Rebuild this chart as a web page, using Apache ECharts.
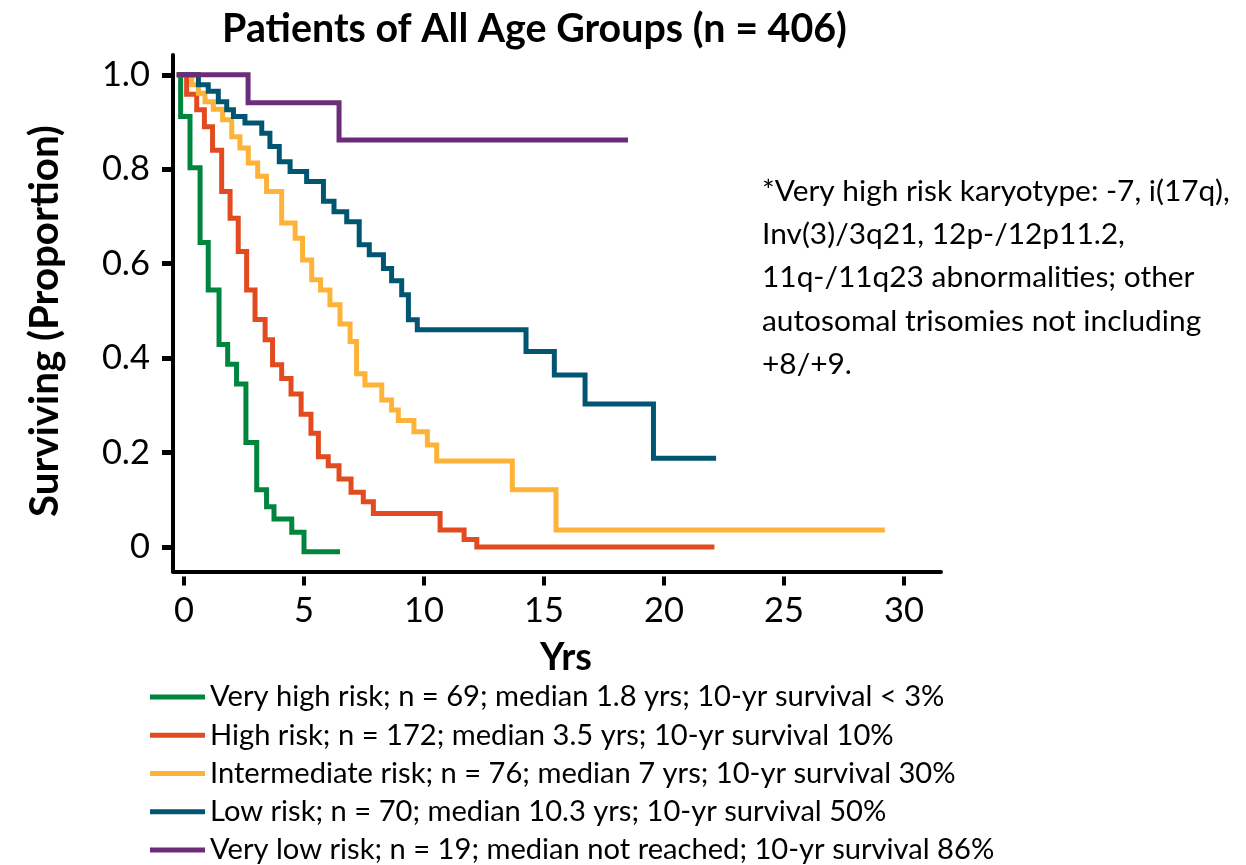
<!DOCTYPE html>
<html><head><meta charset="utf-8">
<script src="https://cdn.jsdelivr.net/npm/echarts@6/dist/echarts.min.js"></script>
<style>html,body{margin:0;padding:0;background:#fff}#c{width:1246px;height:865px}</style>
</head><body><div id="c"></div>
<script>
// ---- data (time in years, survival proportion) ----
const seriesNames = [
  'Very high risk; n = 69; median 1.8 yrs; 10-yr survival < 3%',
  'High risk; n = 172; median 3.5 yrs; 10-yr survival 10%',
  'Intermediate risk; n = 76; median 7 yrs; 10-yr survival 30%',
  'Low risk; n = 70; median 10.3 yrs; 10-yr survival 50%',
  'Very low risk; n = 19; median not reached; 10-yr survival 86%'
];
const veryHighT = [-0.3, -0.14, 0.25, 0.67, 1.01, 1.46, 1.82, 2.19, 2.58, 3.03, 3.44, 3.75, 4.49, 5.0, 6.5];
const veryHighS = [1.0, 0.912, 0.803, 0.645, 0.544, 0.429, 0.387, 0.345, 0.221, 0.121, 0.085, 0.059, 0.031, -0.01, -0.01];
const highT = [-0.3, 0.11, 0.53, 0.85, 1.19, 1.57, 1.92, 2.26, 2.61, 2.96, 3.38, 3.69, 4.07, 4.46, 4.88, 5.29, 5.6, 6.01, 6.46, 6.96, 7.47, 7.89, 10.67, 11.67, 12.2, 22.1];
const highS = [1.0, 0.959, 0.926, 0.890, 0.840, 0.753, 0.696, 0.626, 0.544, 0.482, 0.439, 0.386, 0.357, 0.324, 0.281, 0.241, 0.191, 0.172, 0.144, 0.116, 0.096, 0.071, 0.036, 0.016, 0.0, 0.0];
const interT = [-0.3, 0.32, 0.6, 0.875, 1.22, 1.61, 1.99, 2.33, 2.68, 3.07, 3.44, 4.07, 4.63, 4.94, 5.32, 5.69, 6.08, 6.5, 6.92, 7.19, 7.54, 8.24, 8.65, 8.93, 9.58, 10.14, 10.53, 13.68, 15.5, 29.2];
const interS = [1.0, 0.979, 0.961, 0.943, 0.927, 0.905, 0.869, 0.845, 0.813, 0.785, 0.753, 0.686, 0.654, 0.608, 0.566, 0.544, 0.513, 0.472, 0.435, 0.367, 0.343, 0.311, 0.290, 0.268, 0.244, 0.216, 0.182, 0.121, 0.036, 0.036];
const lowT = [-0.3, 0.6, 1.01, 1.43, 1.78, 2.06, 2.54, 3.24, 3.58, 3.97, 4.42, 5.11, 5.81, 6.25, 6.78, 7.3, 7.72, 8.31, 8.65, 9.07, 9.35, 9.72, 14.25, 15.43, 16.71, 19.56, 22.17];
const lowS = [1.0, 0.979, 0.965, 0.943, 0.926, 0.912, 0.898, 0.876, 0.848, 0.816, 0.795, 0.774, 0.732, 0.710, 0.689, 0.640, 0.619, 0.590, 0.564, 0.534, 0.481, 0.460, 0.414, 0.364, 0.303, 0.188, 0.188];
const veryLowT = [-0.3, 2.67, 6.46, 18.5];
const veryLowS = [1.0, 0.941, 0.862, 0.862];

const xTickValues = [0, 5, 10, 15, 20, 25, 30];
const yTickValues = [0, 0.2, 0.4, 0.6, 0.8, 1.0];
const yTickLabels = ['0', '0.2', '0.4', '0.6', '0.8', '1.0'];

const titleText = 'Patients of All Age Groups (n = 406)';
const yAxisName = 'Surviving (Proportion)';
const xAxisName = 'Yrs';
const noteLines = [
  '*Very high risk karyotype: -7, i(17q),',
  'Inv(3)/3q21, 12p-/12p11.2,',
  '11q-/11q23 abnormalities; other',
  'autosomal trisomies not including',
  '+8/+9.'
];

// ---- styling / layout ----
const colors = ['#00853E', '#E24B1F', '#FDB338', '#005670', '#6B2D78'];
const FONT = 'Lato';
const mctx = document.createElement('canvas').getContext('2d');
function fitSize(text, weight, target) {
  mctx.font = weight + ' 100px ' + FONT;
  return 100 * target / mctx.measureText(text).width;
}
const titleSize = fitSize(titleText, 'bold', 625);
const yNameSize = fitSize(yAxisName, 'bold', 392);
const xNameSize = fitSize(xAxisName, 'bold', 52);
const legendSize = fitSize(seriesNames[0], 'normal', 735);
const noteSize = fitSize(noteLines[0], 'normal', 468);
const tickSize = fitSize('10', 'normal', 40);

const pairs = [[veryHighT, veryHighS], [highT, highS], [interT, interS], [lowT, lowS], [veryLowT, veryLowS]];
const series = pairs.map((p, i) => ({
  name: seriesNames[i],
  type: 'line',
  step: 'end',
  symbol: 'none',
  xAxisIndex: 0,
  color: colors[i],
  lineStyle: { width: 5, color: colors[i], cap: 'butt', join: 'miter' },
  data: p[0].map((t, j) => [t, p[1][j]]),
  animation: false
}));

const xMin = -0.458, xMax = 31.54, yMin = -0.052, yMax = 1.042;

const noteGraphics = noteLines.map((s, i) => ({
  type: 'text', left: 762, top: 176 + i * 43.4,
  style: { text: s, font: 'normal ' + noteSize + 'px ' + FONT, fill: '#000' }
}));

const chart = echarts.init(document.getElementById('c'), null, { renderer: 'canvas' });
chart.setOption({
  animation: false,
  backgroundColor: '#fff',
  grid: { left: 173, right: 305, top: 55, bottom: 293.5, containLabel: false },
  xAxis: [
    {
      type: 'value', min: xMin, max: xMax,
      axisLine: { show: true, onZero: false, lineStyle: { color: '#000', width: 4 } },
      axisTick: { show: false }, axisLabel: { show: false }, splitLine: { show: false }
    },
    {
      type: 'value', min: xMin, max: xMax, position: 'bottom', offset: 5,
      axisLine: { show: false, onZero: false },
      axisTick: { show: true, customValues: xTickValues, length: 9, lineStyle: { color: '#000', width: 4 } },
      axisLabel: { show: true, customValues: xTickValues, margin: 17, color: '#000', fontFamily: FONT, fontSize: tickSize },
      splitLine: { show: false }
    }
  ],
  yAxis: {
    type: 'value', min: yMin, max: yMax,
    axisLine: { show: true, onZero: false, lineStyle: { color: '#000', width: 4 } },
    axisTick: { show: true, customValues: yTickValues, length: 11, lineStyle: { color: '#000', width: 5 } },
    axisLabel: {
      show: true, customValues: yTickValues, margin: 23, color: '#000', fontFamily: FONT, fontSize: tickSize,
      formatter: v => { const k = yTickValues.findIndex(t => Math.abs(t - v) < 1e-6); return k >= 0 ? yTickLabels[k] : ''; }
    },
    splitLine: { show: false }
  },
  legend: {
    orient: 'vertical', left: 150, top: 682, padding: 0,
    itemWidth: 55, itemHeight: 5, itemGap: 8.25, icon: 'rect',
    data: seriesNames,
    textStyle: { color: '#000', fontFamily: FONT, fontSize: legendSize, lineHeight: 30 },
    selectedMode: false
  },
  graphic: [
    { type: 'text', x: 534.5, y: 29, style: { text: titleText, font: 'bold ' + titleSize + 'px ' + FONT, fill: '#000', align: 'center', verticalAlign: 'middle' } },
    { type: 'text', x: 45, y: 321, rotation: Math.PI / 2, style: { text: yAxisName, font: 'bold ' + yNameSize + 'px ' + FONT, fill: '#000', align: 'center', verticalAlign: 'middle' } },
    { type: 'text', x: 566, y: 658, style: { text: xAxisName, font: 'bold ' + xNameSize + 'px ' + FONT, fill: '#000', align: 'center', verticalAlign: 'middle' } }
  ].concat(noteGraphics),
  series: series
});
</script>
</body></html>
